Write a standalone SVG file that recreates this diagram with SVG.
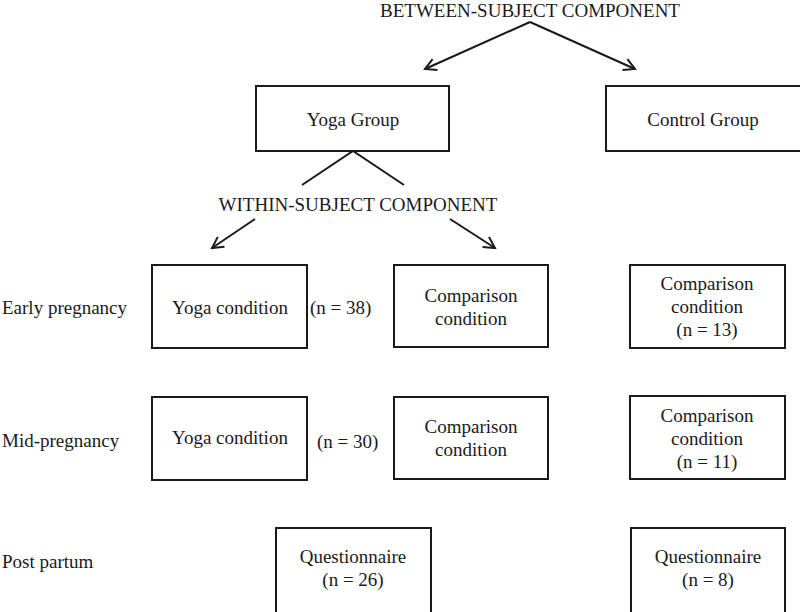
<svg xmlns="http://www.w3.org/2000/svg" width="800" height="612" viewBox="0 0 800 612">
<style>
text{font-family:'Liberation Serif','DejaVu Serif',serif;font-size:19px;fill:#1a1a1a}
.c{text-anchor:middle}
rect{fill:#fff;stroke:#1a1a1a;stroke-width:2}
.ln{stroke:#1a1a1a;stroke-width:2;fill:none}
</style>
<defs>
<marker id="ah" markerWidth="14" markerHeight="14" refX="12" refY="7" orient="auto" markerUnits="userSpaceOnUse">
<path d="M1,1 L12,7 L1,13" fill="none" stroke="#1a1a1a" stroke-width="2"/>
</marker>
</defs>
<rect x="0" y="0" width="800" height="612" style="stroke:none"/>
<g font-family="Liberation Serif, serif">
<g id="labels">
<text class="c" x="530" y="17">BETWEEN-SUBJECT COMPONENT</text>
<text class="c" x="358" y="211">WITHIN-SUBJECT COMPONENT</text>
<text x="2" y="314">Early pregnancy</text>
<text x="2" y="447">Mid-pregnancy</text>
<text x="2" y="568">Post partum</text>
<text x="310" y="314">(n = 38)</text>
<text x="317" y="448">(n = 30)</text>
</g>
<g id="connectors">
<line class="ln" x1="530" y1="22" x2="425" y2="69" marker-end="url(#ah)"/>
<line class="ln" x1="530" y1="22" x2="635" y2="69" marker-end="url(#ah)"/>
<polyline class="ln" points="302,185 353,151 404,185"/>
<line class="ln" x1="255" y1="219" x2="212" y2="248" marker-end="url(#ah)"/>
<line class="ln" x1="450" y1="219" x2="495" y2="248" marker-end="url(#ah)"/>
</g>
<g id="yoga-group"><rect x="256" y="86" width="193" height="65"/><text class="c" x="353" y="126">Yoga Group</text></g>
<g id="control-group"><rect x="606" y="86" width="200" height="65"/><text class="c" x="703" y="126">Control Group</text></g>
<g id="early-yoga"><rect x="152" y="265" width="155" height="83"/><text class="c" x="230" y="314">Yoga condition</text></g>
<g id="early-comparison"><rect x="394" y="265" width="154" height="82"/><text class="c" x="471" y="302">Comparison</text><text class="c" x="471" y="325">condition</text></g>
<g id="early-control"><rect x="630" y="265" width="155" height="83"/><text class="c" x="707" y="290">Comparison</text><text class="c" x="707" y="313">condition</text><text class="c" x="707" y="336">(n = 13)</text></g>
<g id="mid-yoga"><rect x="152" y="397" width="155" height="83"/><text class="c" x="230" y="444">Yoga condition</text></g>
<g id="mid-comparison"><rect x="394" y="397" width="154" height="82"/><text class="c" x="471" y="433">Comparison</text><text class="c" x="471" y="456">condition</text></g>
<g id="mid-control"><rect x="630" y="396" width="155" height="83"/><text class="c" x="707" y="422">Comparison</text><text class="c" x="707" y="445">condition</text><text class="c" x="707" y="468">(n = 11)</text></g>
<g id="post-yoga"><rect x="276" y="528" width="155" height="90"/><text class="c" x="353" y="563">Questionnaire</text><text class="c" x="353" y="586">(n = 26)</text></g>
<g id="post-control"><rect x="631" y="528" width="154" height="90"/><text class="c" x="708" y="563">Questionnaire</text><text class="c" x="708" y="586">(n = 8)</text></g>
</g>
</svg>
